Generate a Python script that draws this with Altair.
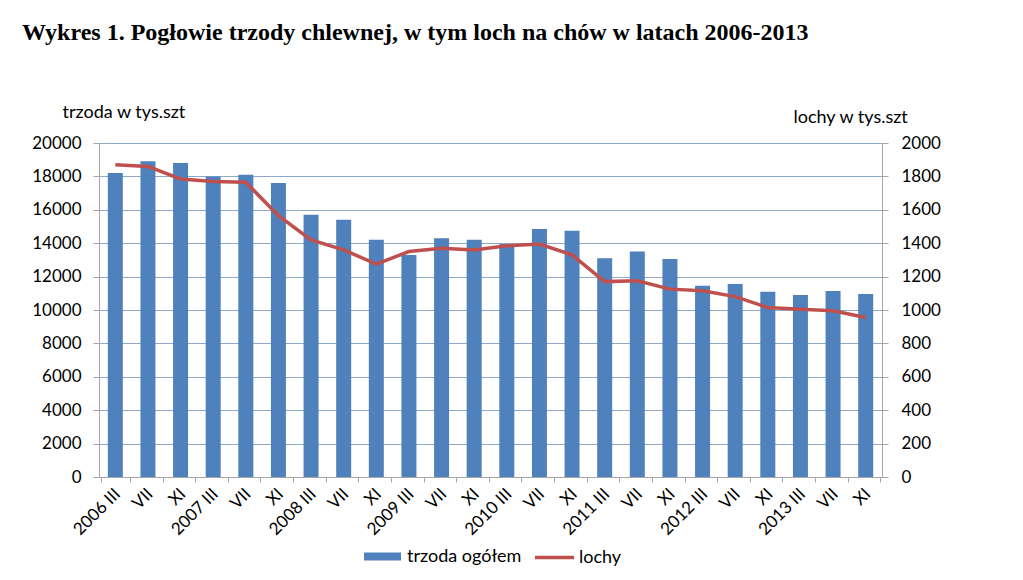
import altair as alt
import pandas as pd

periods = ["2006 III", "2006 VII", "2006 XI",
           "2007 III", "2007 VII", "2007 XI",
           "2008 III", "2008 VII", "2008 XI",
           "2009 III", "2009 VII", "2009 XI",
           "2010 III", "2010 VII", "2010 XI",
           "2011 III", "2011 VII", "2011 XI",
           "2012 III", "2012 VII", "2012 XI",
           "2013 III", "2013 VII", "2013 XI"]

trzoda = [18200, 18900, 18800, 18000, 18100, 17600,
          15700, 15400, 14200, 13300, 14300, 14200,
          13950, 14850, 14750, 13100, 13500, 13050,
          11450, 11560, 11100, 10900, 11140, 10960]

lochy = [1870, 1860, 1785, 1770, 1765, 1565,
         1420, 1360, 1275, 1350, 1370, 1360,
         1385, 1395, 1330, 1170, 1175, 1125,
         1115, 1080, 1015, 1005, 995, 955]

series_bar = "trzoda ogółem"
series_line = "lochy"

df = pd.DataFrame({
    "okres": periods,
    "trzoda": trzoda,
    "lochy": lochy,
    "s1": [series_bar] * len(periods),
    "s2": [series_line] * len(periods),
})

FONT = "Lato"
FS = 17
AXIS_GREY = "#A6A6A6"
GRID = "#8FA9C9"

label_expr = "indexof(datum.label, 'III') >= 0 ? datum.label : split(datum.label, ' ')[1]"

base = alt.Chart(df).encode(
    x=alt.X("okres:N", sort=periods, title=None,
            axis=alt.Axis(labelAngle=-45, labelAlign="right", labelBaseline="middle",
                          labelExpr=label_expr, tickBand="extent", tickSize=5,
                          labelPadding=9, labelOffset=2, domainColor=AXIS_GREY,
                          tickColor=AXIS_GREY, labelFont=FONT, labelFontSize=FS,
                          labelColor="black", grid=False))
)

bars = base.mark_bar(size=15).encode(
    y=alt.Y("trzoda:Q",
            scale=alt.Scale(domain=[0, 20000], nice=False),
            axis=alt.Axis(values=list(range(0, 20001, 2000)), format="d", grid=True,
                          gridColor=GRID, tickSize=6, labelPadding=12,
                          domainColor=AXIS_GREY, tickColor=AXIS_GREY,
                          labelFont=FONT, labelFontSize=FS, labelColor="black",
                          title="trzoda w tys.szt", titleAngle=0, titleX=-37, titleY=-26,
                          titleAlign="left", titleBaseline="alphabetic", titleFont=FONT,
                          titleFontSize=18, titleFontWeight="normal", titleColor="black")),
    color=alt.Color("s1:N",
                    scale=alt.Scale(domain=[series_bar], range=["#4F81BD"]),
                    legend=alt.Legend(orient="none", legendX=265, legendY=395, title=None,
                                      symbolType="M-1,-0.216H1V0.216H-1Z", symbolSize=1369,
                                      symbolStrokeWidth=0, labelFont=FONT, labelFontSize=18,
                                      labelColor="black", labelOffset=6, padding=0)),
)

line = base.mark_line(strokeWidth=3.5).encode(
    y=alt.Y("lochy:Q",
            scale=alt.Scale(domain=[0, 2000], nice=False),
            axis=alt.Axis(orient="right", values=list(range(0, 2001, 200)), format="d",
                          grid=False, tickSize=6, labelPadding=13,
                          domainColor=AXIS_GREY, tickColor=AXIS_GREY,
                          labelFont=FONT, labelFontSize=FS, labelColor="black",
                          title="lochy w tys.szt", titleAngle=0, titleX=-89, titleY=-21,
                          titleAlign="left", titleBaseline="alphabetic", titleFont=FONT,
                          titleFontSize=18, titleFontWeight="normal", titleColor="black")),
    stroke=alt.Stroke("s2:N",
                      scale=alt.Scale(domain=[series_line], range=["#C0504D"]),
                      legend=alt.Legend(orient="none", legendX=434, legendY=393, title=None,
                                        symbolType="stroke", symbolSize=1521,
                                        symbolStrokeWidth=3.5, labelFont=FONT,
                                        labelFontSize=18, labelColor="black",
                                        labelOffset=3, padding=0)),
)

chart = alt.layer(bars, line).resolve_scale(
    y="independent", color="independent", stroke="independent"
).properties(
    width=783, height=334,
    padding={"left": 91, "top": 135, "right": 133, "bottom": 95},
    autosize=alt.AutoSizeParams(type="none"),
    title=alt.TitleParams(
        "Wykres 1. Pogłowie trzody chlewnej, w tym  loch na chów w latach 2006-2013",
        font="Liberation Serif", fontSize=24, fontWeight="bold", color="black",
        anchor="start", frame="group", dx=-77, offset=58),
).configure_view(stroke=None).configure(background="white")

chart.save("out.html", embed_options={"renderer": "svg", "actions": False})
